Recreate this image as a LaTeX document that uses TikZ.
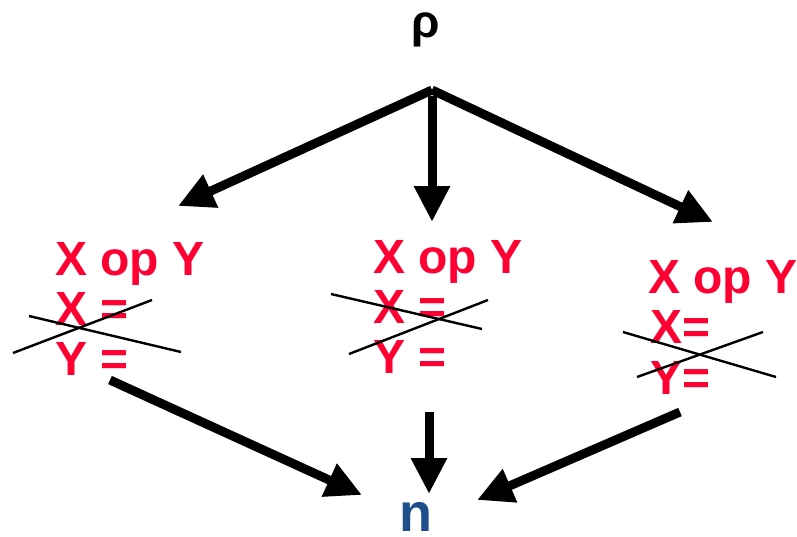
\documentclass[tikz,border=0pt]{standalone}
\usepackage{fontspec}
\setmainfont{Liberation Sans}
\usetikzlibrary{arrows.meta}
\definecolor{hotred}{RGB}{255,0,51}
\definecolor{nblue}{RGB}{31,78,140}
\tikzset{
  bigarrow/.style={line width=9pt,-{Triangle[length=36pt,width=34pt]}},
  redtxt/.style={inner sep=0pt,anchor=base west,text=hotred,font=\bfseries\fontsize{48}{50}\selectfont},
  crossline/.style={line width=2.4pt,black}
}
\begin{document}
\begin{tikzpicture}[x=1pt,y=-1pt]
\useasboundingbox (0,0) rectangle (797,536);
% top label
\node[inner sep=0pt,anchor=base,font=\bfseries\fontsize{46}{46}\selectfont] (rho) at (426,37) {ρ};
% top arrows
\coordinate (apex) at (432,90);
\coordinate (apexm) at (432,96);
\coordinate (tl) at (178,206);
\coordinate (tm) at (432,222);
\coordinate (tr) at (713,222);
\draw[bigarrow] (apex) -- (tl);
\draw[bigarrow] (apexm) -- (tm);
\draw[bigarrow] (apex) -- (tr);
% left block
\node[redtxt] (l1) at (55,275) {X op Y};
\node[redtxt] (l2) at (55,325) {X =};
\node[redtxt] (l3) at (55,375) {Y =};
\coordinate (la1) at (29,316); \coordinate (la2) at (181,352);
\coordinate (lb1) at (13,353); \coordinate (lb2) at (152,300);
\draw[crossline] (la1) -- (la2);
\draw[crossline] (lb1) -- (lb2);
% middle block
\node[redtxt] (m1) at (373,273) {X op Y};
\node[redtxt] (m2) at (373,323) {X =};
\node[redtxt] (m3) at (373,373) {Y =};
\coordinate (ma1) at (331,294); \coordinate (ma2) at (482,329);
\coordinate (mb1) at (349,354); \coordinate (mb2) at (488,300);
\draw[crossline] (ma1) -- (ma2);
\draw[crossline] (mb1) -- (mb2);
% right block
\node[redtxt] (r1) at (648,293) {X op Y};
\node[redtxt] (r2) at (650,343) {X=};
\node[redtxt] (r3) at (650,394) {Y=};
\coordinate (ra1) at (623,332); \coordinate (ra2) at (776,377);
\coordinate (rb1) at (637,377); \coordinate (rb2) at (763,332);
\draw[crossline] (ra1) -- (ra2);
\draw[crossline] (rb1) -- (rb2);
% bottom label
\node[inner sep=0pt,anchor=base,text=nblue,font=\bfseries\fontsize{54}{54}\selectfont] (n) at (416,531) {n};
% bottom arrows
\coordinate (bl) at (110,380);
\coordinate (bm) at (429,412);
\coordinate (br) at (680,412);
\coordinate (bla) at (362,495);
\coordinate (bma) at (429,494);
\coordinate (bra) at (477,500);
\draw[bigarrow] (bl) -- (bla);
\draw[bigarrow] (bm) -- (bma);
\draw[bigarrow] (br) -- (bra);
\end{tikzpicture}
\end{document}
